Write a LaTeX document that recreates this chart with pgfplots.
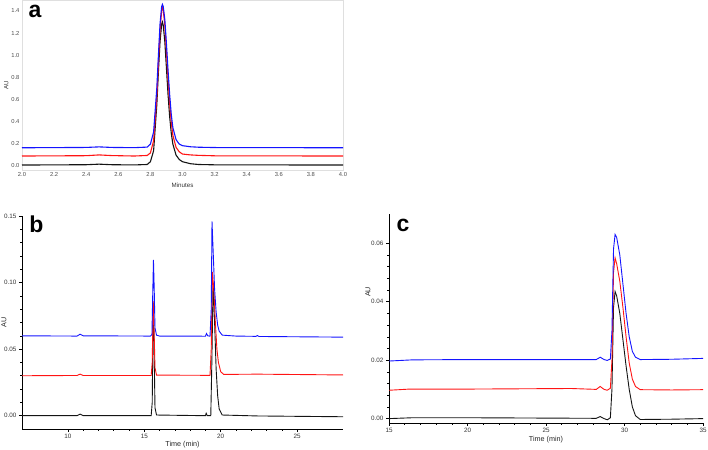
\documentclass[border=0pt]{standalone}
\usepackage{pgfplots}
\pgfplotsset{compat=1.18}
\usepackage{fontspec}
\setmainfont{Liberation Sans}
\definecolor{cblue}{RGB}{20,20,255}
\definecolor{cred}{RGB}{255,20,20}
\definecolor{cblack}{RGB}{20,20,20}
\begin{document}
\begin{tikzpicture}[x=1pt,y=1pt]
\useasboundingbox (0,0) rectangle (708,449);
% ---------- panel a ----------
\begin{axis}[
  at={(22pt,279pt)}, anchor=south west, scale only axis,
  width=321pt, height=170pt,
  xmin=2.0, xmax=4.0, ymin=-0.045, ymax=1.5,
  axis line style={gray!25},
  major tick length=0pt, minor tick length=0pt,
  xtick={2.0,2.2,2.4,2.6,2.8,3.0,3.2,3.4,3.6,3.8,4.0},
  ytick={0,0.2,0.4,0.6,0.8,1.0,1.2,1.4},
  /pgf/number format/assume math mode=true,
  /pgf/number format/fixed, /pgf/number format/fixed zerofill, /pgf/number format/precision=1,
  tick label style={font=\fontsize{5.8}{6}\selectfont, text=black!70},
  xticklabel shift=-1pt, yticklabel shift=-1pt,
  xlabel={Minutes}, ylabel={AU},
  label style={font=\fontsize{6.2}{7}\selectfont, text=black!80},
  xlabel style={at={(axis description cs:0.5,-0.088)}, anchor=center},
  ylabel style={at={(axis description cs:-0.049,0.5)}, anchor=center},
  clip=true,
]
\addplot[cblack, line width=1.1pt] coordinates {(2.0,0.0) (2.4,0.003) (2.48,0.008) (2.56,0.003) (2.7,0.001) (2.78,0.005) (2.80,0.03) (2.82,0.13) (2.84,0.55) (2.85,0.85) (2.86,1.12) (2.87,1.28) (2.875,1.30) (2.88,1.27) (2.89,1.12) (2.90,0.88) (2.91,0.64) (2.92,0.44) (2.93,0.29) (2.94,0.19) (2.96,0.09) (2.98,0.05) (3.0,0.03) (3.05,0.012) (3.1,0.005) (3.2,0.002) (4.0,0.0)};
\addplot[cred, line width=1.1pt] coordinates {(2.0,0.082) (2.4,0.085) (2.48,0.092) (2.56,0.086) (2.7,0.082) (2.78,0.087) (2.80,0.11) (2.82,0.22) (2.84,0.62) (2.85,0.93) (2.86,1.22) (2.87,1.40) (2.875,1.43) (2.88,1.41) (2.89,1.27) (2.90,1.03) (2.91,0.78) (2.92,0.56) (2.93,0.39) (2.94,0.27) (2.96,0.16) (2.98,0.12) (3.0,0.10) (3.05,0.092) (3.1,0.088) (3.2,0.084) (4.0,0.082)};
\addplot[cblue, line width=1.1pt] coordinates {(2.0,0.157) (2.4,0.16) (2.48,0.165) (2.56,0.16) (2.7,0.158) (2.78,0.163) (2.80,0.19) (2.82,0.30) (2.84,0.70) (2.85,1.0) (2.86,1.28) (2.87,1.44) (2.875,1.46) (2.88,1.44) (2.89,1.32) (2.90,1.10) (2.91,0.86) (2.92,0.64) (2.93,0.46) (2.94,0.34) (2.96,0.23) (2.98,0.19) (3.0,0.176) (3.05,0.166) (3.1,0.162) (3.2,0.159) (4.0,0.157)};
\end{axis}
\node[font=\fontsize{23}{24}\bfseries] at (35,438) {a};
% ---------- panel b ----------
\begin{axis}[
  at={(22pt,20pt)}, anchor=south west, scale only axis,
  width=321pt, height=213pt,
  xmin=7, xmax=28, ymin=-0.01, ymax=0.15,
  axis lines=left, axis line style={-, black, line width=0.5pt},
  tick align=outside, tick style={black, line width=0.5pt},
  major tick length=3pt, minor tick length=1.8pt,
  xtick={10,15,20,25}, ytick={0,0.05,0.10,0.15},
  minor x tick num=4, minor y tick num=4,
  scaled y ticks=false,
  /pgf/number format/assume math mode=true,
  yticklabel style={/pgf/number format/fixed, /pgf/number format/fixed zerofill, /pgf/number format/precision=2},
  tick label style={font=\fontsize{6.3}{7}\selectfont, text=black!80},
  xticklabel shift=-1pt, yticklabel shift=-1pt,
  xlabel={Time (min)}, ylabel={AU},
  label style={font=\fontsize{7.2}{8}\selectfont, text=black!85},
  xlabel style={at={(axis description cs:0.5,-0.075)}, anchor=center},
  ylabel style={at={(axis description cs:-0.056,0.5)}, anchor=center},
]
\addplot[cblack, line width=0.9pt] coordinates {(7,0.0) (10.6,0.0) (10.8,0.0012) (11.0,0.0) (15.45,0.0) (15.52,0.01) (15.58,0.085) (15.63,0.06) (15.7,0.006) (15.8,0.0005) (19.0,0.0) (19.05,0.0018) (19.12,0.0) (19.35,0.0) (19.42,0.04) (19.5,0.1) (19.6,0.07) (19.7,0.035) (19.8,0.015) (19.9,0.005) (20.1,0.0005) (22.4,-0.0002) (28,-0.0008)};
\addplot[cred, line width=0.9pt] coordinates {(7,0.030) (10.6,0.0302) (10.8,0.0312) (11.0,0.0302) (15.45,0.0302) (15.52,0.04) (15.58,0.086) (15.63,0.07) (15.7,0.036) (15.8,0.0305) (19.3,0.0303) (19.38,0.05) (19.45,0.108) (19.55,0.095) (19.65,0.07) (19.75,0.05) (19.85,0.04) (20.0,0.033) (20.2,0.031) (22.4,0.0312) (28,0.0306)};
\addplot[cblue, line width=0.9pt] coordinates {(7,0.060) (10.6,0.0598) (10.8,0.0612) (11.0,0.0600) (15.4,0.0598) (15.5,0.061) (15.55,0.09) (15.6,0.117) (15.65,0.095) (15.7,0.066) (15.8,0.0605) (16,0.0598) (19.0,0.0597) (19.07,0.0617) (19.15,0.0600) (19.3,0.0597) (19.38,0.08) (19.43,0.146) (19.5,0.125) (19.6,0.095) (19.7,0.078) (19.8,0.068) (19.9,0.0635) (20.1,0.0605) (21,0.0598) (22.3,0.0596) (22.4,0.0602) (22.5,0.0595) (28,0.059)};
\end{axis}
\node[font=\fontsize{23}{24}\bfseries] at (36.5,225) {b};
% ---------- panel c ----------
\begin{axis}[
  at={(389pt,26pt)}, anchor=south west, scale only axis,
  width=314pt, height=209pt,
  xmin=15, xmax=35, ymin=-0.0015, ymax=0.07,
  axis lines=left, axis line style={-, black, line width=0.5pt},
  tick align=outside, tick style={black, line width=0.5pt},
  major tick length=3pt, minor tick length=1.8pt,
  xtick={15,20,25,30,35}, ytick={0,0.02,0.04,0.06},
  minor x tick num=4, minor y tick num=4,
  scaled y ticks=false,
  /pgf/number format/assume math mode=true,
  yticklabel style={/pgf/number format/fixed, /pgf/number format/fixed zerofill, /pgf/number format/precision=2},
  tick label style={font=\fontsize{6.3}{7}\selectfont, text=black!80},
  xticklabel shift=-1pt, yticklabel shift=-1pt,
  xlabel={Time (min)}, ylabel={AU},
  label style={font=\fontsize{7.2}{8}\selectfont, text=black!85},
  xlabel style={at={(axis description cs:0.5,-0.08)}, anchor=center},
  ylabel style={at={(axis description cs:-0.067,0.627)}, anchor=center},
]
\addplot[cblack, line width=0.9pt] coordinates {(15,0.0) (16.5,0.0003) (20,0.0003) (28.2,0.0001) (28.45,0.0007) (28.7,0.0) (28.9,-0.0004) (29.1,0.0003) (29.2,0.01) (29.3,0.038) (29.4,0.0435) (29.5,0.042) (29.7,0.036) (29.9,0.027) (30.1,0.018) (30.3,0.01) (30.5,0.004) (30.7,0.001) (31.0,-0.0003) (33,-0.0002) (35,0.0)};
\addplot[cred, line width=0.9pt] coordinates {(15,0.0097) (16.3,0.0101) (20,0.0101) (26.6,0.0103) (28.2,0.0100) (28.45,0.0110) (28.7,0.0100) (28.9,0.0097) (29.1,0.0104) (29.2,0.02) (29.3,0.05) (29.4,0.055) (29.5,0.053) (29.7,0.047) (29.9,0.038) (30.1,0.028) (30.3,0.019) (30.5,0.0135) (30.7,0.011) (31.0,0.0099) (33,0.0098) (35,0.0099)};
\addplot[cblue, line width=0.9pt] coordinates {(15,0.0197) (16.5,0.0201) (20,0.0202) (26.7,0.0202) (28.2,0.0202) (28.45,0.0210) (28.7,0.0202) (28.9,0.0199) (29.1,0.0204) (29.2,0.03) (29.3,0.058) (29.4,0.063) (29.5,0.062) (29.7,0.056) (29.9,0.046) (30.1,0.036) (30.3,0.028) (30.5,0.023) (30.7,0.0210) (31.0,0.0202) (33,0.0203) (35,0.0206)};
\end{axis}
\node[font=\fontsize{23}{24}\bfseries] at (403,224) {c};
\end{tikzpicture}
\end{document}
